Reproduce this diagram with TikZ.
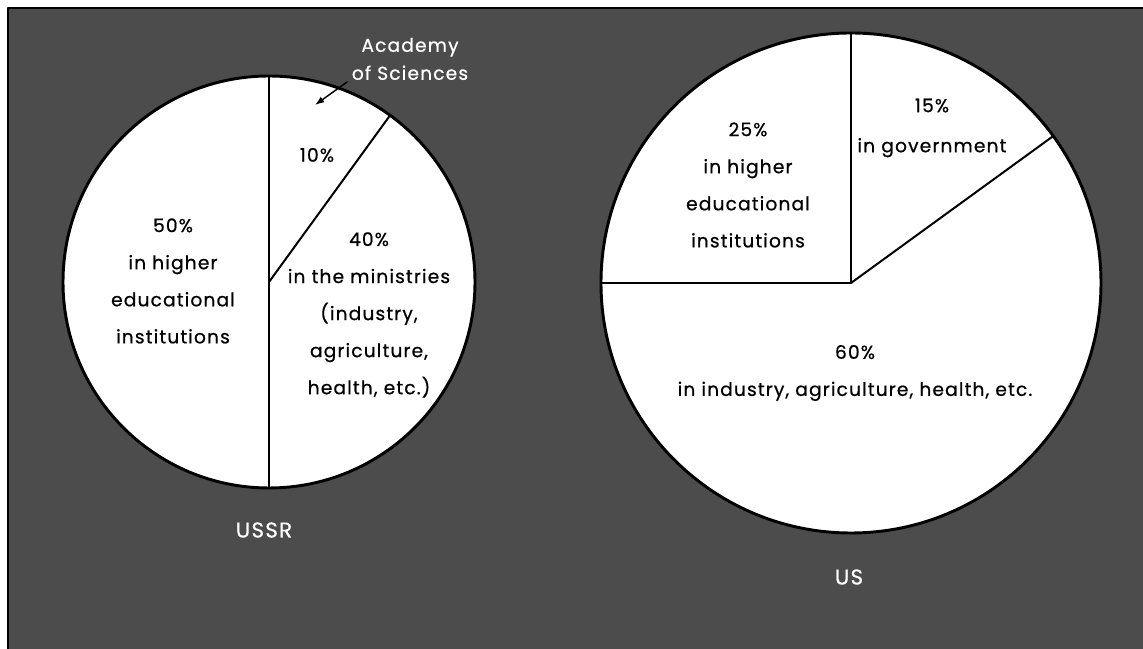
\documentclass[tikz,border=0pt]{standalone}
\usepackage{fontspec}
\setmainfont{Poppins}[LetterSpace=6, FakeBold=0.6]
\usetikzlibrary{arrows.meta}
\definecolor{screen}{gray}{0.3}
\tikzset{
    pielabel/.style = {align=center, font=\fontsize{14}{27.8}\selectfont},
    darklabel/.style = {align=center, text=white, font=\fontsize{16}{22}\selectfont},
    rim/.style = {line width=2.2pt, fill=white},
    cut/.style = {line width=1.5pt}
}

\begin{document}
\begin{tikzpicture}[line cap=round,line join=round,x=0.75pt,y=0.75pt]
\useasboundingbox (0,0) rectangle (1143,649);
\draw [fill=screen, line width=1pt] (8,-6) rectangle (1156,641);

% USSR
\coordinate (ussr) at (269,367);
\draw [rim] (ussr) circle (206);
\draw [cut] (269,573) -- (269,161);
\draw [cut] (ussr) -- ++(54:206);
\node[pielabel] (ussrhigher) at (173,368) {50\%\\in higher\\educational\\institutions};
\node[pielabel] (ussracad) at (317,494) {10\%};
\node[pielabel] (ussrmin) at (369,334) {40\%\\in the ministries\\(industry,\\agriculture,\\health, etc.)};
\node[darklabel, font=\fontsize{14}{21}\selectfont] (acad) at (410,590) {Academy\\of Sciences};
\coordinate (acadtip) at (315,544);
\draw [-{Latex[length=7pt,width=5pt]}, line width=1.1pt] (acad.200) -- (acadtip);
\node[darklabel] (ussrname) at (264,119) {USSR};

% US
\coordinate (us) at (851,366);
\draw [rim] (us) circle (250);
\draw [cut] (851,616) -- (us) -- (601,366);
\draw [cut] (us) -- ++(36:250);
\node[pielabel] (ushigher) at (748,464) {25\%\\in higher\\educational\\institutions};
\node[pielabel, font=\fontsize{14}{30}\selectfont] (usgov) at (932,521) {15\%\\in government};
\node[pielabel] (usind) at (855,276) {60\%\\in industry, agriculture, health, etc.};
\node[darklabel] (usname) at (849,72) {US};
\end{tikzpicture}
\end{document}
